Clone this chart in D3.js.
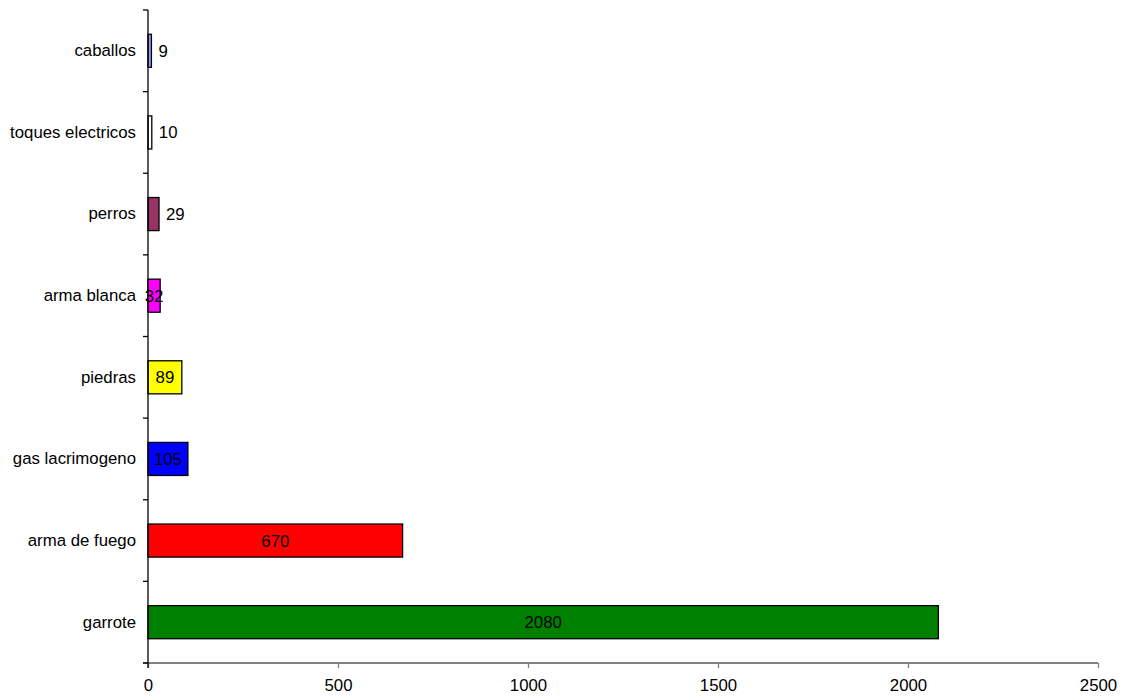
<!DOCTYPE html>
<html><head><meta charset="utf-8">
<script src="https://cdn.jsdelivr.net/npm/d3@7"></script>
<style>body{margin:0;background:#fff}svg{display:block;font-family:"Liberation Sans",Arial,sans-serif}</style>
</head><body>
<svg id="c" width="1123" height="700"></svg>
<script>
const categories = ["garrote","arma de fuego","gas lacrimogeno","piedras","arma blanca","perros","toques electricos","caballos"];
const values = [2080,670,105,89,32,29,10,9];
const colors = ["#008000","#FF0000","#0000FF","#FFFF00","#FF00FF","#993366","#FFFFFF","#9999FF"];
const xTicks = [0,500,1000,1500,2000,2500];

const FS = 16.8;
const svg = d3.select("#c");
const mLeft = 148, mRight = 1098, mTop = 10, mBottom = 663;
const x = d3.scaleLinear().domain([0,2500]).range([mLeft,mRight]);
const y = d3.scaleBand().domain(categories).range([mBottom, mTop]).padding(0);
const bh = y.bandwidth()*0.405;

// bars
svg.selectAll("rect.bar").data(categories).enter().append("rect")
  .attr("x", x(0))
  .attr("y", d => y(d) + y.bandwidth()/2 - bh/2)
  .attr("width", (d,i) => x(values[i]) - x(0))
  .attr("height", bh)
  .attr("fill", (d,i) => colors[i])
  .attr("stroke", "#000").attr("stroke-width", 1.3);

// value labels
svg.selectAll("text.val").data(categories).enter().append("text")
  .attr("x", (d,i) => values[i] < 30 ? x(values[i]) + 7 : (x(0)+x(values[i]))/2)
  .attr("y", d => y(d) + y.bandwidth()/2)
  .attr("dy", "0.36em")
  .attr("text-anchor", (d,i) => values[i] < 30 ? "start" : "middle")
  .attr("font-size", FS).attr("fill", "#000")
  .text((d,i) => values[i]);

// x axis
const xa = svg.append("g").attr("transform", `translate(0,${mBottom})`)
  .call(d3.axisBottom(x).tickValues(xTicks).tickSize(5).tickPadding(11).tickFormat(d3.format("d")));
xa.select(".domain").attr("stroke", "#808080").attr("stroke-width", 2).attr("d", `M${mLeft-5},0H${mRight}`);
xa.selectAll(".tick line").attr("stroke", "#808080").attr("stroke-width", 1.3);
xa.selectAll(".tick text").attr("font-size", FS).attr("fill", "#000").attr("font-family", "Liberation Sans, Arial, sans-serif");

// y axis
const ya = svg.append("g").attr("transform", `translate(${mLeft},0)`)
  .call(d3.axisLeft(y).tickSize(0).tickPadding(12));
ya.select(".domain").attr("stroke", "#000").attr("stroke-width", 1.3).attr("d", `M0,${mTop}V${mBottom+5}`);
ya.selectAll(".tick text").attr("font-size", FS).attr("fill", "#000").attr("font-family", "Liberation Sans, Arial, sans-serif");
// category separator ticks
const bounds = categories.map(c => y(c)).concat([mBottom]);
svg.selectAll("line.sep").data(bounds).enter().append("line")
  .attr("x1", mLeft-5).attr("x2", mLeft)
  .attr("y1", d => d).attr("y2", d => d)
  .attr("stroke", "#000").attr("stroke-width", 1.3);
</script>
</body></html>
